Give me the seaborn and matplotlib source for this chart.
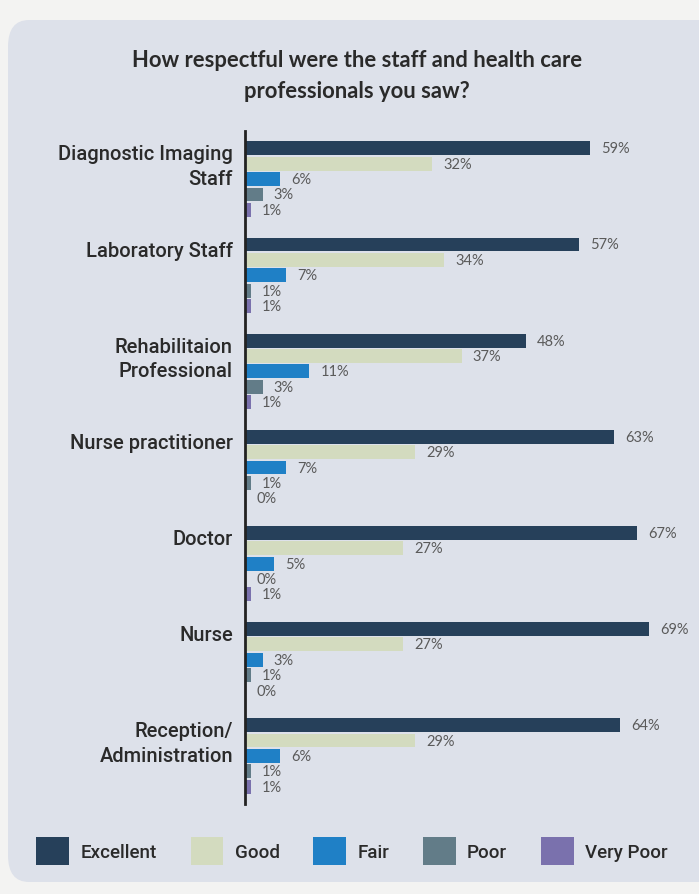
import matplotlib
matplotlib.use("Agg")
import matplotlib.pyplot as plt
from matplotlib.patches import FancyBboxPatch, Patch
import matplotlib.transforms as mtransforms
import seaborn as sns
import pandas as pd

categories = ["Diagnostic Imaging\nStaff", "Laboratory Staff", "Rehabilitaion\nProfessional",
              "Nurse practitioner", "Doctor", "Nurse", "Reception/\nAdministration"]
ratings = ["Excellent", "Good", "Fair", "Poor", "Very Poor"]
excellent = [59, 57, 48, 63, 67, 69, 64]
good = [32, 34, 37, 29, 27, 27, 29]
fair = [6, 7, 11, 7, 5, 3, 6]
poor = [3, 1, 3, 1, 0, 1, 1]
very_poor = [1, 1, 1, 0, 1, 0, 1]
colors = ["#26405a", "#d3dbbf", "#1f80c6", "#627c88", "#7a71ad"]
title = "How respectful were the staff and health care\nprofessionals you saw?"

series = [excellent, good, fair, poor, very_poor]
rows = []
for r, vals in zip(ratings, series):
    for c, v in zip(categories, vals):
        rows.append({"category": c, "rating": r, "value": v})
df = pd.DataFrame(rows)

sns.set_style("white")
plt.rcParams["font.family"] = ["Roboto", "DejaVu Sans"]

W, H = 699, 895
fig = plt.figure(figsize=(W / 100, H / 100), dpi=100)
fig.patch.set_facecolor("#f3f3f2")
panel = FancyBboxPatch((8 / W, 12 / H), 720 / W, 862 / H,
                       boxstyle="round,pad=0,rounding_size=0.03",
                       transform=fig.transFigure, facecolor="#dde1ea",
                       edgecolor="none", zorder=-5)
fig.patches.append(panel)

ax = fig.add_axes([245 / W, 1 - 805 / H, 445 / W, 673 / H])
ax.set_zorder(2)
ax.set_facecolor("none")
sns.barplot(data=df, y="category", x="value", hue="rating", hue_order=ratings,
            order=categories, palette=colors, orient="h", width=0.8, gap=0.1,
            ax=ax, legend=False, saturation=1, linewidth=0, edgecolor="none")
ax.set_xlim(0, 76)
ax.set_ylim(len(categories) - 0.5, -0.5)
for s in ["top", "right", "bottom"]:
    ax.spines[s].set_visible(False)
ax.spines["left"].set_color("#222222")
ax.spines["left"].set_linewidth(2)
ax.set_xticks([])
ax.set_yticks([])
ax.set_xlabel("")
ax.set_ylabel("")

for cont in ax.containers:
    ax.bar_label(cont, fmt="{:g}%", padding=8, color="#5a5a5a", fontsize=10.5,
                 family=["Lato", "DejaVu Sans"])

trans = mtransforms.blended_transform_factory(ax.transAxes, ax.transData)
for i, c in enumerate(categories):
    ax.text(-0.027, i - 0.36, c, transform=trans, ha="right", va="top",
            fontsize=14.5, fontweight="medium", color="#2a2a2a", linespacing=1.36)

fig.text(357 / W, 1 - 76 / H, title, ha="center", va="center", fontsize=15.8,
         fontweight="bold", color="#2a2a2a", linespacing=1.55,
         family=["Lato", "DejaVu Sans"])

handles = [Patch(facecolor=col, edgecolor="none", label=r) for r, col in zip(ratings, colors)]
fig.legend(handles=handles, loc="center", bbox_to_anchor=(352 / W, 1 - 852 / H), ncol=5,
           frameon=False, handlelength=1.75, handleheight=1.9, handletextpad=0.6,
           columnspacing=1.8, prop={"size": 13.5, "weight": "medium"},
           labelcolor="#2a2a2a")

fig.savefig("out.png", dpi=100, facecolor=fig.get_facecolor())
